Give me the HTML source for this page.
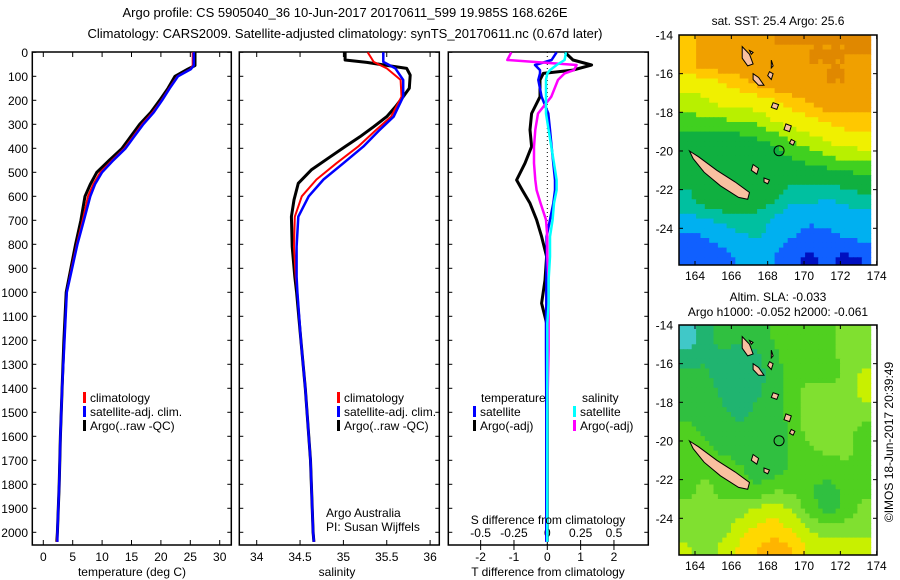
<!DOCTYPE html>
<html><head><meta charset="utf-8"><style>
body{margin:0;background:#fff}
svg{display:block;font-family:"Liberation Sans",sans-serif;font-size:12px}
</style></head><body>
<svg id="c" width="900" height="580" viewBox="0 0 900 580">
<text x="345" y="17" text-anchor="middle" font-size="13">Argo profile: CS 5905040_36 10-Jun-2017 20170611_599 19.985S 168.626E</text>
<text x="345" y="38" text-anchor="middle" font-size="13">Climatology: CARS2009. Satellite-adjusted climatology: synTS_20170611.nc (0.67d later)</text>
<g id="g"></g>
</svg>
<script>
// ---------- DATA ----------
const tempDepth=[0,55,70,100,150,200,250,300,350,400,450,500,550,600,700,800,900,1000,1200,1400,1600,1800,2000,2040];
const tempArgo=[25.8,25.8,24.6,22.4,21.2,19.8,18.3,16.4,14.9,13.4,11.2,9.1,8.0,7.1,6.4,5.5,4.7,3.9,3.5,3.2,2.9,2.7,2.4,2.3];
const tempClim=[25.4,25.4,25.0,22.8,21.4,20.1,18.6,16.8,15.3,13.8,11.7,9.7,8.5,7.6,6.7,5.7,4.8,4.0,3.6,3.2,2.9,2.7,2.4,2.3];
const tempSat=[25.6,25.6,25.1,22.9,21.5,20.2,18.8,17.0,15.5,14.0,11.9,10.0,8.8,8.0,6.9,5.8,4.9,4.0,3.6,3.2,2.9,2.7,2.4,2.4];
const salDepthArgo=[0,32,42,67,95,150,185,227,268,310,352,393,435,490,546,615,685,810,935,1000,1200,1400,1700,2000,2040];
const salArgo=[35.02,35.02,35.27,35.73,35.77,35.76,35.69,35.6,35.5,35.35,35.19,35.02,34.85,34.63,34.48,34.43,34.4,34.41,34.44,34.46,34.51,34.56,34.62,34.65,34.66];
const salDepthClim=[0,40,67,115,185,268,323,393,462,530,600,685,810,935,1000,1200,1400,1700,2000,2040];
const salClim=[35.28,35.35,35.5,35.66,35.67,35.55,35.38,35.17,34.92,34.69,34.52,34.44,34.43,34.45,34.47,34.51,34.56,34.62,34.65,34.66];
const salSat=[35.46,35.46,35.6,35.69,35.69,35.58,35.42,35.23,35.0,34.77,34.6,34.48,34.46,34.46,34.47,34.51,34.56,34.62,34.65,34.66];
const dDepth=[0,32,53,74,88,115,185,255,323,393,462,532,574,629,698,768,851,949,1046,1129,1240,1500,2040];
const dTArgo=[0.53,0.77,1.33,0.77,-0.12,-0.22,-0.22,-0.47,-0.52,-0.47,-0.67,-0.92,-0.75,-0.52,-0.32,-0.17,-0.02,-0.07,-0.17,-0.02,0.0,0.0,0.0];
const dTSat=[0.28,0.13,-0.37,-0.22,-0.22,-0.27,-0.17,0.03,0.08,0.13,0.18,0.23,0.23,0.18,0.08,-0.02,-0.02,-0.03,-0.03,-0.04,-0.04,-0.03,-0.03];
const dSSat=[0.14,0.13,0.07,0.02,0.0,-0.01,-0.01,-0.01,0.01,0.03,0.05,0.07,0.07,0.05,0.04,0.02,0.02,0.01,0.01,0.0,0.0,0.0,0.0];
const dSArgo=[-0.27,-0.3,0.22,0.2,0.13,0.08,0.03,-0.07,-0.09,-0.1,-0.1,-0.09,-0.08,-0.05,-0.01,0.0,0.0,0.01,0.01,0.01,0.01,0.0,0.0];
const depthTicks=[0,100,200,300,400,500,600,700,800,900,1000,1100,1200,1300,1400,1500,1600,1700,1800,1900,2000];
const tTicks=[0,5,10,15,20,25,30];
const sTicks=[34,34.5,35,35.5,36];
const dtTicks=[-2,-1,0,1,2];
const dsTicks=[-0.5,-0.25,0,0.25,0.5];
const lonTicks=[164,166,168,170,172,174];
const latTicks=[-14,-16,-18,-20,-22,-24];
const sstGrid=[
[26.5,27,27,27,27.2,27.3,27.3,27.3,27.3,27.3,27.4],
[26.5,27,27,27,27,27.2,27.2,27.3,27.3,27.3,27.2],
[26,26,26.3,26.5,26.8,27,27,27.2,27.3,27.3,27.2],
[25.6,25.7,25.9,26,26,26.2,26.5,26.7,27,27,27],
[25.2,25.3,25.3,25.4,25.5,25.8,26,26.1,26.3,26.5,26.5],
[24.6,24.6,24.5,24.6,24.8,25,25.4,25.6,25.8,26,26],
[24.5,24.5,24.5,24.5,24.5,24.6,24.8,25,25.2,25.4,25.5],
[24.4,24.4,24.5,24.5,24.5,24.5,24.4,24.4,24.4,24.5,24.6],
[24.2,24.5,24.8,24.6,24.5,24.4,24,24,23.9,24,24.2],
[23.8,23.9,24,24.2,24.2,23.8,23.6,23.5,23.5,23.6,23.7],
[23.2,23.4,23.6,23.8,23.9,23.7,23.4,23.2,23.3,23.4,23.5],
[23,23,23.2,23.5,23.6,23.4,23,22.8,23,22.8,22.9]];
const slaGrid=[
[-0.08,-0.03,0,0,0,0.02,0.03,0.04,0.04,0.05,0.06],
[-0.04,-0.02,-0.02,-0.03,-0.02,0.01,0.03,0.04,0.04,0.05,0.06],
[-0.01,-0.01,-0.03,-0.04,-0.03,0,0.03,0.03,0.03,0.05,0.08],
[0,0,-0.02,-0.03,-0.02,0,0.03,0.06,0.06,0.05,0.09],
[0.01,0,-0.01,-0.02,-0.01,0,0.03,0.07,0.07,0.06,0.05],
[0.02,0.01,0,-0.01,-0.01,0,0.02,0.06,0.06,0.05,0.04],
[0.03,0.02,0.01,0,-0.01,-0.01,0.02,0.04,0.05,0.05,0.04],
[0.03,0.04,0.04,0.02,0,0,0.02,0.03,0.03,0.04,0.04],
[0.04,0.05,0.04,0.03,0.02,0.04,0.04,0.02,0,0.02,0.04],
[0.05,0.05,0.05,0.06,0.08,0.09,0.07,0.03,0,0.02,0.05],
[0.05,0.05,0.06,0.09,0.11,0.12,0.1,0.07,0.05,0.06,0.06],
[0.08,0.06,0.08,0.11,0.13,0.14,0.13,0.1,0.09,0.09,0.09]];
const gridLon0=163.1, gridLat0=-14, cellDeg=[0.96,1];
const islands=[
[[163.7,-20.0],[164.2,-20.3],[165.2,-21.0],[166.2,-21.6],[167.0,-22.15],[166.9,-22.5],[166.4,-22.4],[165.4,-21.8],[164.5,-21.1],[163.9,-20.4]],
[[166.6,-14.6],[167.0,-15.0],[167.2,-15.5],[166.9,-15.6],[166.6,-15.2]],
[[167.2,-16.0],[167.5,-16.2],[167.8,-16.6],[167.5,-16.6],[167.2,-16.3]],
[[168.1,-15.9],[168.3,-16.0],[168.2,-16.3],[168.0,-16.1]],
[[168.3,-17.5],[168.6,-17.6],[168.5,-17.85],[168.2,-17.75]],
[[169.0,-18.6],[169.3,-18.7],[169.2,-19.0],[168.9,-18.9]],
[[169.3,-19.4],[169.5,-19.5],[169.4,-19.7],[169.2,-19.6]],
[[167.2,-20.7],[167.5,-20.9],[167.4,-21.2],[167.1,-21.0]],
[[167.8,-21.4],[168.1,-21.5],[168.0,-21.7],[167.8,-21.6]],
[[167.0,-14.8],[167.2,-14.9],[167.1,-15.0]],
[[168.2,-15.3],[168.3,-15.6],[168.2,-15.7]]];
const argoPos=[168.626,-19.985];

// ---------- DRAW ----------
const NS='http://www.w3.org/2000/svg';
const G=document.getElementById('g');
function mk(tag,attrs,parent){const e=document.createElementNS(NS,tag);for(const k in attrs)e.setAttribute(k,attrs[k]);(parent||G).appendChild(e);return e;}
const Y0=52.3, KY=0.24, TOP=52, BOT=545;
const yD=d=>Y0+KY*d;
const xT=v=>43.3+5.88*v;
const xS=v=>256.7+86.7*(v-34);
const xdT=v=>547.3+33.33*v;
const xdS=v=>547.3+133.3*v;
const panels=[[32.3,231.3],[239.3,439.3],[448.3,648.3]];

panels.forEach((p,i)=>{
  const r=mk('rect',{x:p[0],y:TOP,width:p[1]-p[0],height:BOT-TOP,fill:'none',stroke:'#000','stroke-width':1.5});
  
  
  depthTicks.forEach(d=>{
    mk('line',{x1:p[0],x2:p[0]+4,y1:yD(d),y2:yD(d),stroke:'#000'});
    mk('line',{x1:p[1],x2:p[1]-4,y1:yD(d),y2:yD(d),stroke:'#000'});
  });
});
depthTicks.forEach(d=>{
  const t=mk('text',{x:28,y:yD(d)+4.5,'text-anchor':'end'});t.textContent=d;
  
  
});
function xTicks(vals,fx,y,lab){vals.forEach(v=>{
  mk('line',{x1:fx(v),x2:fx(v),y1:TOP,y2:TOP+5,stroke:'#000'});
  mk('line',{x1:fx(v),x2:fx(v),y1:BOT,y2:BOT-5,stroke:'#000'});
  const t=mk('text',{x:fx(v),y:y,'text-anchor':'middle'});t.textContent=lab?lab(v):v;
  
  
});}
xTicks(tTicks,xT,561);
xTicks(sTicks,xS,561);
dtTicks.forEach(v=>{
  mk('line',{x1:xdT(v),x2:xdT(v),y1:BOT,y2:BOT+5,stroke:'#000'});
  const t=mk('text',{x:xdT(v),y:561,'text-anchor':'middle'});t.textContent=v;
  
  
});
dsTicks.forEach(v=>{
  mk('line',{x1:xdS(v),x2:xdS(v),y1:BOT,y2:BOT-5,stroke:'#000'});
  const t=mk('text',{x:xdS(v),y:537,'text-anchor':'middle'});t.textContent=v;
  
  
});
mk('line',{x1:xdT(0),x2:xdT(0),y1:TOP,y2:BOT,stroke:'#000','stroke-dasharray':'1,3'});

function series(depths,vals,fx,color,w,name){
  const pts=depths.map((d,i)=>fx(vals[i]).toFixed(1)+','+yD(d).toFixed(1)).join(' ');
  const pl=mk('polyline',{points:pts,fill:'none',stroke:color,'stroke-width':w,'stroke-linejoin':'round'});
  
  
}
series(tempDepth,tempArgo,xT,'#000',3,'temp-argo-line');
series(tempDepth,tempClim,xT,'#f00',2,'temp-climatology-line');
series(tempDepth,tempSat,xT,'#00f',2.5,'temp-satellite-line');
series(salDepthArgo,salArgo,xS,'#000',3,'sal-argo-line');
series(salDepthClim,salClim,xS,'#f00',2,'sal-climatology-line');
series(salDepthClim,salSat,xS,'#00f',2.5,'sal-satellite-line');
series(dDepth,dTArgo,xdT,'#000',3,'tdiff-argo-line');
series(dDepth,dTSat,xdT,'#00f',2.5,'tdiff-satellite-line');
series(dDepth,dSArgo,xdS,'#f0f',2.5,'sdiff-argo-line');
series(dDepth,dSSat,xdS,'#0ff',2.5,'sdiff-satellite-line');

function txt(x,y,s,name,anchor,extra){const t=mk('text',Object.assign({x:x,y:y,'text-anchor':anchor||'start'},extra||{}));t.textContent=s;
  
  return t;}
function leg(x,y,c,s,name){mk('rect',{x:x,y:y-10,width:3,height:11,fill:c});txt(x+7,y,s,name);}
[[83,'#f00','climatology'],[83,'#00f','satellite-adj. clim.'],[83,'#000','Argo(..raw -QC)']].forEach((l,i)=>leg(l[0],402+i*14,l[1],l[2],'legend-entry-temp'));
[[337,'#f00','climatology'],[337,'#00f','satellite-adj. clim.'],[337,'#000','Argo(..raw -QC)']].forEach((l,i)=>leg(l[0],402+i*14,l[1],l[2],'legend-entry-sal'));
txt(481,402,'temperature','legend-temp-header');
txt(582,402,'salinity','legend-sal-header');
leg(473,416,'#00f','satellite','legend-entry-tdiff');
leg(473,430,'#000','Argo(-adj)','legend-entry-tdiff');
leg(573,416,'#0ff','satellite','legend-entry-sdiff');
leg(573,430,'#f0f','Argo(-adj)','legend-entry-sdiff');
txt(326,517,'Argo Australia','credit-line1');
txt(326,531,'PI: Susan Wijffels','credit-line2');
txt(548,524,'S difference from climatology','s-diff-axis-title','middle');
txt(132,576,'temperature (deg C)','x-axis-title-temp','middle');
txt(337,576,'salinity','x-axis-title-sal','middle');
txt(548,576,'T difference from climatology','x-axis-title-tdiff','middle');

// ---------- MAPS ----------
const MX0=679,MX1=877;
const mxL=l=>695+18.17*(l-164);
function pick(st,v){for(let i=st.length-1;i>=0;i--) if(v>=st[i][0]) return st[i][1]; return st[0][1];}
function sstColor(v){return pick([[22.5,'#0010c0'],[22.9,'#1060ff'],[23.4,'#00b0f0'],[23.9,'#00c0a0'],[24.3,'#10b040'],[24.9,'#40d020'],[25.4,'#b8f000'],[25.8,'#f0f000'],[26.3,'#ffc800'],[26.7,'#f0a000'],[27.3,'#e08800'],[27.45,'#d87000']],v);}
function slaColor(v){return pick([[-0.1,'#40c8c8'],[-0.05,'#20b470'],[-0.015,'#30c040'],[0.015,'#50d020'],[0.045,'#80e030'],[0.075,'#c8f000'],[0.105,'#ffd800'],[0.13,'#ffb400']],v);}
function sample(grid,r,c){
  r=Math.max(0,Math.min(grid.length-1,r));c=Math.max(0,Math.min(grid[0].length-1,c));
  const r0=Math.floor(r),c0=Math.floor(c),r1=Math.min(r0+1,grid.length-1),c1=Math.min(c0+1,grid[0].length-1);
  const fr=r-r0,fc=c-c0;
  return grid[r0][c0]*(1-fr)*(1-fc)+grid[r0][c1]*(1-fr)*fc+grid[r1][c0]*fr*(1-fc)+grid[r1][c1]*fr*fc;
}
function drawMap(top,grid,colorFn,name){
  const myL=l=>top+19.33*(-14-l);
  const bottom=top+230;
  const g=mk('g',{});
  
  
  const cp=mk('clipPath',{id:'cp'+top},g);mk('rect',{x:MX0,y:top,width:MX1-MX0,height:230},cp);
  const cg=mk('g',{'clip-path':'url(#cp'+top+')'},g);
  const SUB=4;
  for(let ri=0;ri<grid.length*SUB;ri++)for(let ci=0;ci<grid[0].length*SUB;ci++){
    const v=sample(grid,(ri+0.5)/SUB-0.5,(ci+0.5)/SUB-0.5);
    const x=mxL(gridLon0+ci*cellDeg[0]/SUB), y=myL(gridLat0-ri*cellDeg[1]/SUB);
    const c=mk('rect',{x:x.toFixed(1),y:y.toFixed(1),width:(18.17*cellDeg[0]/SUB+0.6).toFixed(1),height:(19.33*cellDeg[1]/SUB+0.6).toFixed(1),fill:colorFn(v)},cg);
    
    
  }
  islands.forEach(isl=>{
    const p=mk('polygon',{points:isl.map(q=>mxL(q[0]).toFixed(1)+','+myL(q[1]).toFixed(1)).join(' '),fill:'#f8c0a0',stroke:'#000','stroke-width':1},cg);
    
    
  });
  const ac=mk('circle',{cx:mxL(argoPos[0]),cy:myL(argoPos[1]),r:5,fill:'none',stroke:'#000'},cg);
  
  
  mk('rect',{x:MX0,y:top,width:MX1-MX0,height:230,fill:'none',stroke:'#000','stroke-width':1.5},g);
  lonTicks.forEach(l=>{
    mk('line',{x1:mxL(l),x2:mxL(l),y1:top,y2:top+4,stroke:'#000'},g);
    mk('line',{x1:mxL(l),x2:mxL(l),y1:bottom,y2:bottom-4,stroke:'#000'},g);
    txt(mxL(l),bottom+15,l,'map-lon-label','middle');
  });
  latTicks.forEach(l=>{
    mk('line',{x1:MX0,x2:MX0+4,y1:myL(l),y2:myL(l),stroke:'#000'},g);
    mk('line',{x1:MX1,x2:MX1-4,y1:myL(l),y2:myL(l),stroke:'#000'},g);
    txt(673,myL(l)+4.5,l,'map-lat-label','end');
  });
}
drawMap(35,sstGrid,sstColor,'sst-map');
drawMap(325,slaGrid,slaColor,'sla-map');
txt(778,25,'sat. SST: 25.4 Argo: 25.6','sst-map-title','middle');
txt(778,301,'Altim. SLA: -0.033','sla-map-title','middle');
txt(778,316,'Argo h1000: -0.052 h2000: -0.061','sla-map-subtitle','middle');
txt(0,0,'©IMOS 18-Jun-2017 20:39:49','timestamp','middle',{transform:'translate(893,442) rotate(-90)'});
</script>
</body></html>
